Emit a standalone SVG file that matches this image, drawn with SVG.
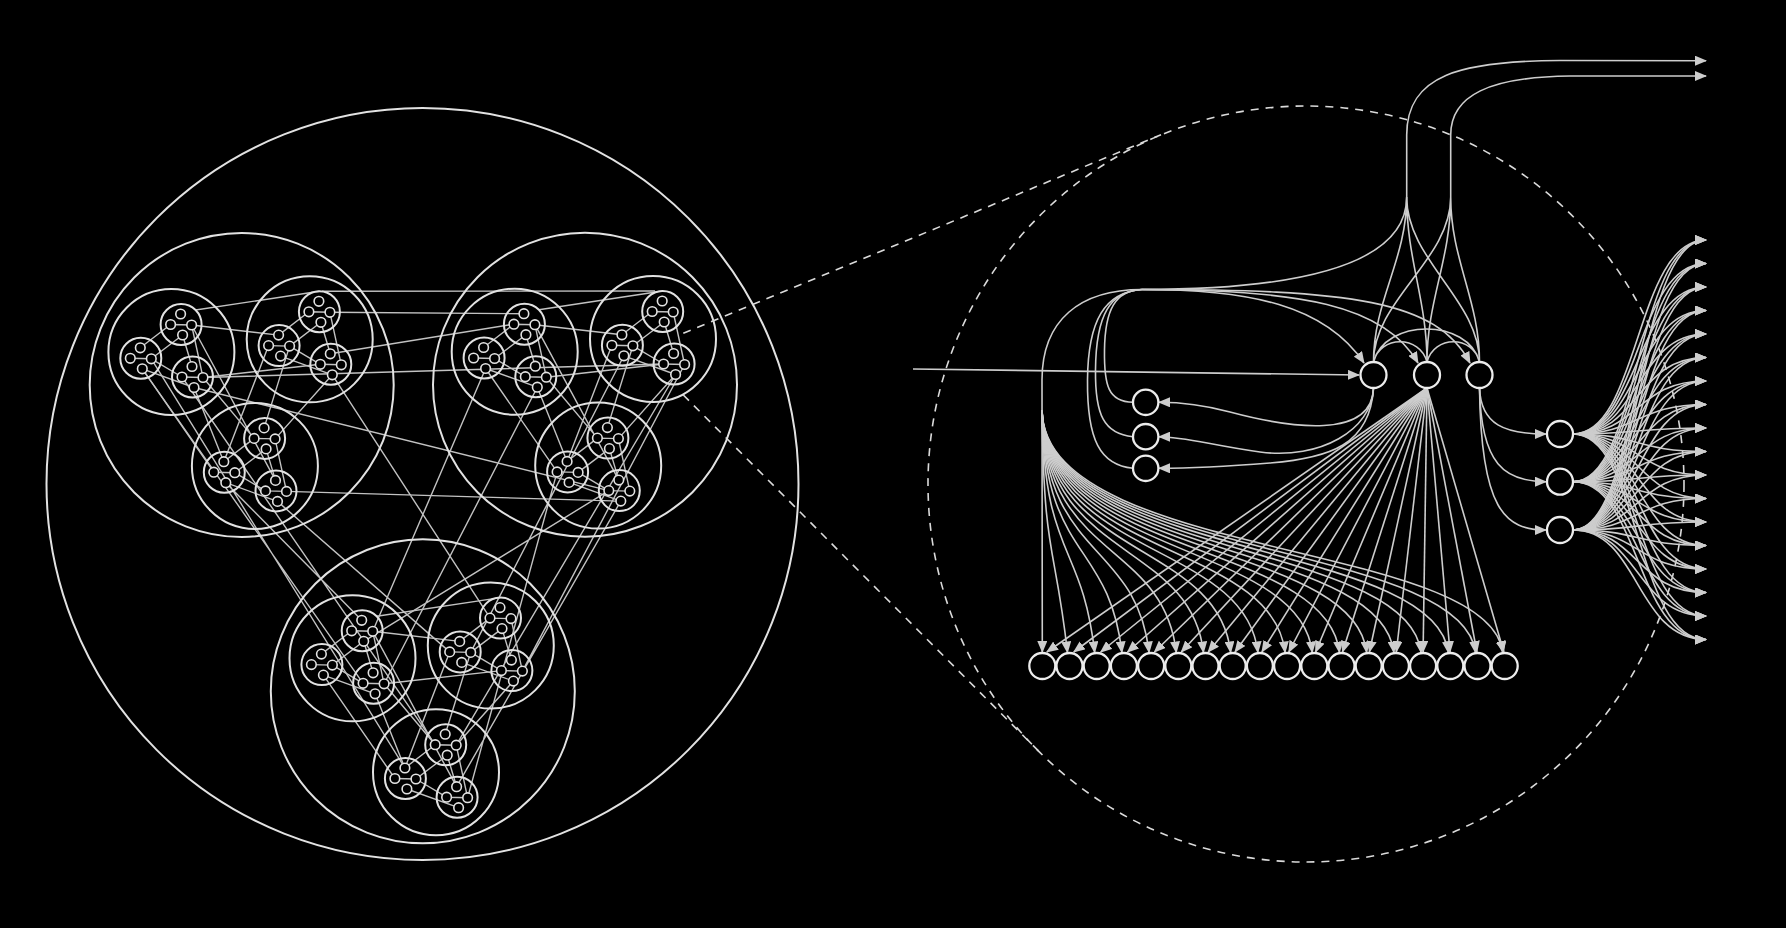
<svg xmlns="http://www.w3.org/2000/svg" width="1786" height="928" viewBox="0 0 1786 928">
<defs>
<style>
.c{fill:none;stroke:#e2e2e2;stroke-width:2}
.ln{fill:none;stroke:#c2c2c2;stroke-width:1.4}
.tn{fill:#000;stroke:#e2e2e2;stroke-width:1.6}
.e{fill:none;stroke:#cdcdcd;stroke-width:1.6}
.ea{fill:none;stroke:#cdcdcd;stroke-width:1.6;marker-end:url(#ah)}
.n{fill:#000;stroke:#ececec;stroke-width:2.3}
.dash{fill:none;stroke:#dadada;stroke-width:1.6;stroke-dasharray:8 7}
</style>
<marker id="ah" viewBox="0 0 12 10" refX="11" refY="5" markerWidth="12" markerHeight="10" markerUnits="userSpaceOnUse" orient="auto"><path d="M0,0 L12,5 L0,10 z" fill="#cdcdcd"/></marker>
<g id="l4c"><circle class="c" r="20.5"/><circle class="tn" cx="-0.5" cy="-10.5" r="4.8"/><circle class="tn" cx="-10.5" cy="0" r="4.8"/><circle class="tn" cx="10.5" cy="0.5" r="4.8"/><circle class="tn" cx="1.5" cy="10.5" r="4.8"/></g>
<g id="l3c"><circle class="c" r="63"/><use href="#l4c" x="9.7" y="-27.5"/><use href="#l4c" x="-30.6" y="6.3"/><use href="#l4c" x="21.1" y="25"/></g>
<g id="l2c"><circle class="c" r="152"/><use href="#l3c" x="-70.3" y="-33"/><use href="#l3c" x="68" y="-45.7"/><use href="#l3c" x="13.2" y="80.9"/></g>
<path id="l3l" class="ln" d="M-31.1 -4.2L-0.8 -27.5M-20.1 6.8L11.2 -17M20.2 -27L31.6 25.5M11.2 -17L20.6 14.5M-20.1 6.8L10.6 25M-29.1 16.8L22.6 35.5M-0.8 -27.5L20.2 -27M-41.1 6.3L-20.1 6.8M10.6 25L31.6 25.5"/>
<g id="l2l"><use href="#l3l" x="-70.3" y="-33"/><use href="#l3l" x="68" y="-45.7"/><use href="#l3l" x="13.2" y="80.9"/><path class="ln" d="M-46.1 -75L77.7 -93.7M-50.1 -60L36.9 -49.9M-38.7 -7.5L78.6 -20.7M-99.4 -16.2L-27.9 87.2M-47.7 2.5L-17.9 76.7M-50.1 -60L33.8 95.4M26.9 -39.4L-17.9 76.7M90.6 -10.2L33.4 53.9M47.9 -38.9L22.4 42.9M-38.7 -7.5L12.4 53.4"/></g>
</defs>
<rect width="1786" height="928" fill="#000"/>

<g id="fractal-connectors">
<use href="#l2l" x="241.7" y="385"/>
<use href="#l2l" x="585" y="384.7"/>
<use href="#l2l" x="422.8" y="691.3"/>
<path class="ln" d="M322 291.3L655 291M329.9 312.3L523.9 313.7M330.3 353.8L513.9 324.2M203 377.5L663.6 364M194 387.5L608.8 490.6M286.5 491.4L620.8 501.1M142.3 368.8L363.1 683.3M151.3 358.8L404.9 768M225.8 482.7L361.7 620.3M277.5 501.4L449.7 651.9M332.3 374.8L490.2 618.1M182 377L435.2 744.7M485.6 368.5L372.7 631.3M537.3 387.2L384.1 683.8M557.1 471.9L467.6 797.7M620.8 501.1L456.6 786.7M608.8 490.6L363.7 641.3M623.9 355.8L470.7 652.4M684.6 364.5L522.4 671.1M675.6 374.5L456.2 745.2"/>
</g>

<g id="fractal">
<circle class="c" cx="422.5" cy="484" r="376"/>
<g id="mod-a"><use href="#l2c" x="241.7" y="385"/></g>
<g id="mod-b"><use href="#l2c" x="585" y="384.7"/></g>
<g id="mod-c"><use href="#l2c" x="422.8" y="691.3"/></g>
</g>

<g id="zoom-lens">
<circle class="dash" cx="1306" cy="484" r="378"/>
<path class="dash" d="M683.3 333.3L1161 134.8M683.3 395L1038.4 750.9"/>
</g>

<g id="connectors">
<path class="ea" d="M913 369L1359 375"/>
<path class="e" d="M1133 402.3C1108 402 1104 385 1104.5 350C1105 310 1115 290.5 1142 289.5"/>
<path class="e" d="M1133 436.7C1104 434 1095 415 1095.5 370C1096 315 1110 291 1142 289.5"/>
<path class="e" d="M1133 468.3C1100 465 1087 440 1087.5 380C1088 320 1105 292 1142 289.5"/>
<path class="ea" d="M1142 289.5C1250 289.5 1325 305 1364 363"/>
<path class="ea" d="M1142 289.5C1300 289.5 1385 305 1418 363"/>
<path class="ea" d="M1142 289.5C1350 289.5 1437 300 1470 363"/>
<path class="e" d="M1142 289.5C1300 289.5 1406.7 265 1406.7 197"/>
<path class="ea" d="M1142 289.5C1080 289.5 1042 320 1042 380L1042.3 652"/>
<path class="ea" d="M1042 410C1044 560 1054.5 540 1067.5 652.5"/>
<path class="ea" d="M1042 410C1044 560 1081.7 540 1094.7 652.5"/>
<path class="ea" d="M1042 410C1044 560 1108.9 540 1121.9 652.5"/>
<path class="ea" d="M1042 410C1044 560 1136.1 540 1149.1 652.5"/>
<path class="ea" d="M1042 410C1044 560 1163.3 540 1176.3 652.5"/>
<path class="ea" d="M1042 410C1044 560 1190.5 540 1203.5 652.5"/>
<path class="ea" d="M1042 410C1044 560 1217.7 540 1230.7 652.5"/>
<path class="ea" d="M1042 410C1044 560 1244.9 540 1257.9 652.5"/>
<path class="ea" d="M1042 410C1044 560 1272.1 540 1285.1 652.5"/>
<path class="ea" d="M1042 410C1044 560 1299.3 540 1312.3 652.5"/>
<path class="ea" d="M1042 410C1044 560 1326.5 540 1339.5 652.5"/>
<path class="ea" d="M1042 410C1044 560 1353.7 540 1366.7 652.5"/>
<path class="ea" d="M1042 410C1044 560 1380.9 540 1393.9 652.5"/>
<path class="ea" d="M1042 410C1044 560 1408.1 540 1421.1 652.5"/>
<path class="ea" d="M1042 410C1044 560 1435.3 540 1448.3 652.5"/>
<path class="ea" d="M1042 410C1044 560 1462.5 540 1475.5 652.5"/>
<path class="ea" d="M1042 410C1044 560 1489.7 540 1502.7 652.5"/>
<path class="ea" d="M1427 388L1046.9 652"/>
<path class="ea" d="M1427 388L1073.8 652"/>
<path class="ea" d="M1427 388L1100.7 652"/>
<path class="ea" d="M1427 388L1127.5 652"/>
<path class="ea" d="M1427 388L1154.4 652"/>
<path class="ea" d="M1427 388L1181.3 652"/>
<path class="ea" d="M1427 388L1208.2 652"/>
<path class="ea" d="M1427 388L1235 652"/>
<path class="ea" d="M1427 388L1261.9 652"/>
<path class="ea" d="M1427 388L1288.8 652"/>
<path class="ea" d="M1427 388L1315.6 652"/>
<path class="ea" d="M1427 388L1342.5 652"/>
<path class="ea" d="M1427 388L1369.4 652"/>
<path class="ea" d="M1427 388L1396.3 652"/>
<path class="ea" d="M1427 388L1423.1 652"/>
<path class="ea" d="M1427 388L1450 652"/>
<path class="ea" d="M1427 388L1476.9 652"/>
<path class="ea" d="M1427 388L1503.8 652"/>
<path class="ea" d="M1373.5 388C1372 440 1290 428 1230 412C1200 404 1180 402.3 1159 402.3"/>
<path class="ea" d="M1373.5 388C1372 430 1320 460 1260 452C1210 445 1185 436.7 1159 436.7"/>
<path class="ea" d="M1373.5 388C1370 445 1330 458 1270 463C1220 467 1190 468.3 1159 468.3"/>
<path class="e" d="M1373.5 362C1380 335 1420 335 1427 362M1427 362C1434 335 1473 335 1479.5 362M1373.5 362C1385 318 1468 318 1479.5 362"/>
<path class="e" d="M1373.5 362C1373.5 300 1406.7 260 1406.7 197M1427 362C1427 300 1406.7 260 1406.7 197M1479.5 362C1479.5 300 1406.7 260 1406.7 197M1373.5 362C1373.5 300 1450.7 260 1450.7 197M1427 362C1427 300 1450.7 260 1450.7 197M1479.5 362C1479.5 300 1450.7 260 1450.7 197"/>
<path class="ea" d="M1406.7 197L1406.7 135C1406.7 75 1460 61 1560 60.5L1706 60.7"/>
<path class="ea" d="M1450.7 197L1450.7 135C1450.7 95 1490 77 1570 76L1706 76"/>
<path class="ea" d="M1479.5 388C1481 425 1505 434 1546 434"/>
<path class="ea" d="M1479.5 388C1481 465 1505 481.7 1546 481.7"/>
<path class="ea" d="M1479.5 388C1481 510 1505 530 1546 530"/>
<path class="ea" d="M1573 434C1640 434 1635 240 1706 240"/>
<path class="ea" d="M1573 434C1640 434 1635 263.5 1706 263.5"/>
<path class="ea" d="M1573 434C1640 434 1635 287 1706 287"/>
<path class="ea" d="M1573 434C1640 434 1635 310.5 1706 310.5"/>
<path class="ea" d="M1573 434C1640 434 1635 334 1706 334"/>
<path class="ea" d="M1573 434C1640 434 1635 357.5 1706 357.5"/>
<path class="ea" d="M1573 434C1640 434 1635 381 1706 381"/>
<path class="ea" d="M1573 434C1640 434 1635 404.5 1706 404.5"/>
<path class="ea" d="M1573 434C1640 434 1635 428 1706 428"/>
<path class="ea" d="M1573 434C1640 434 1635 451.5 1706 451.5"/>
<path class="ea" d="M1573 434C1640 434 1635 475 1706 475"/>
<path class="ea" d="M1573 434C1640 434 1635 498.5 1706 498.5"/>
<path class="ea" d="M1573 434C1640 434 1635 522 1706 522"/>
<path class="ea" d="M1573 434C1640 434 1635 545.5 1706 545.5"/>
<path class="ea" d="M1573 434C1640 434 1635 569 1706 569"/>
<path class="ea" d="M1573 434C1640 434 1635 592.5 1706 592.5"/>
<path class="ea" d="M1573 434C1640 434 1635 616 1706 616"/>
<path class="ea" d="M1573 434C1640 434 1635 639.5 1706 639.5"/>
<path class="ea" d="M1573 481.7C1640 481.7 1635 240 1706 240"/>
<path class="ea" d="M1573 481.7C1640 481.7 1635 263.5 1706 263.5"/>
<path class="ea" d="M1573 481.7C1640 481.7 1635 287 1706 287"/>
<path class="ea" d="M1573 481.7C1640 481.7 1635 310.5 1706 310.5"/>
<path class="ea" d="M1573 481.7C1640 481.7 1635 334 1706 334"/>
<path class="ea" d="M1573 481.7C1640 481.7 1635 357.5 1706 357.5"/>
<path class="ea" d="M1573 481.7C1640 481.7 1635 381 1706 381"/>
<path class="ea" d="M1573 481.7C1640 481.7 1635 404.5 1706 404.5"/>
<path class="ea" d="M1573 481.7C1640 481.7 1635 428 1706 428"/>
<path class="ea" d="M1573 481.7C1640 481.7 1635 451.5 1706 451.5"/>
<path class="ea" d="M1573 481.7C1640 481.7 1635 475 1706 475"/>
<path class="ea" d="M1573 481.7C1640 481.7 1635 498.5 1706 498.5"/>
<path class="ea" d="M1573 481.7C1640 481.7 1635 522 1706 522"/>
<path class="ea" d="M1573 481.7C1640 481.7 1635 545.5 1706 545.5"/>
<path class="ea" d="M1573 481.7C1640 481.7 1635 569 1706 569"/>
<path class="ea" d="M1573 481.7C1640 481.7 1635 592.5 1706 592.5"/>
<path class="ea" d="M1573 481.7C1640 481.7 1635 616 1706 616"/>
<path class="ea" d="M1573 481.7C1640 481.7 1635 639.5 1706 639.5"/>
<path class="ea" d="M1573 530C1640 530 1635 240 1706 240"/>
<path class="ea" d="M1573 530C1640 530 1635 263.5 1706 263.5"/>
<path class="ea" d="M1573 530C1640 530 1635 287 1706 287"/>
<path class="ea" d="M1573 530C1640 530 1635 310.5 1706 310.5"/>
<path class="ea" d="M1573 530C1640 530 1635 334 1706 334"/>
<path class="ea" d="M1573 530C1640 530 1635 357.5 1706 357.5"/>
<path class="ea" d="M1573 530C1640 530 1635 381 1706 381"/>
<path class="ea" d="M1573 530C1640 530 1635 404.5 1706 404.5"/>
<path class="ea" d="M1573 530C1640 530 1635 428 1706 428"/>
<path class="ea" d="M1573 530C1640 530 1635 451.5 1706 451.5"/>
<path class="ea" d="M1573 530C1640 530 1635 475 1706 475"/>
<path class="ea" d="M1573 530C1640 530 1635 498.5 1706 498.5"/>
<path class="ea" d="M1573 530C1640 530 1635 522 1706 522"/>
<path class="ea" d="M1573 530C1640 530 1635 545.5 1706 545.5"/>
<path class="ea" d="M1573 530C1640 530 1635 569 1706 569"/>
<path class="ea" d="M1573 530C1640 530 1635 592.5 1706 592.5"/>
<path class="ea" d="M1573 530C1640 530 1635 616 1706 616"/>
<path class="ea" d="M1573 530C1640 530 1635 639.5 1706 639.5"/>
</g>

<g id="nodes">
<g id="n-top1"><circle class="n" cx="1373.5" cy="375" r="13"/></g>
<g id="n-top2"><circle class="n" cx="1427" cy="375" r="13"/></g>
<g id="n-top3"><circle class="n" cx="1479.5" cy="375" r="13"/></g>
<g id="n-left1"><circle class="n" cx="1145.7" cy="402.3" r="12.7"/></g>
<g id="n-left2"><circle class="n" cx="1145.7" cy="436.7" r="12.7"/></g>
<g id="n-left3"><circle class="n" cx="1145.7" cy="468.3" r="12.7"/></g>
<g id="n-right1"><circle class="n" cx="1560" cy="434" r="13"/></g>
<g id="n-right2"><circle class="n" cx="1560" cy="481.7" r="13"/></g>
<g id="n-right3"><circle class="n" cx="1560" cy="530" r="13"/></g>
<g id="n-b0"><circle class="n" cx="1042.3" cy="666" r="13"/></g>
<g id="n-b1"><circle class="n" cx="1069.5" cy="666" r="13"/></g>
<g id="n-b2"><circle class="n" cx="1096.7" cy="666" r="13"/></g>
<g id="n-b3"><circle class="n" cx="1123.9" cy="666" r="13"/></g>
<g id="n-b4"><circle class="n" cx="1151.1" cy="666" r="13"/></g>
<g id="n-b5"><circle class="n" cx="1178.3" cy="666" r="13"/></g>
<g id="n-b6"><circle class="n" cx="1205.5" cy="666" r="13"/></g>
<g id="n-b7"><circle class="n" cx="1232.7" cy="666" r="13"/></g>
<g id="n-b8"><circle class="n" cx="1259.9" cy="666" r="13"/></g>
<g id="n-b9"><circle class="n" cx="1287.1" cy="666" r="13"/></g>
<g id="n-b10"><circle class="n" cx="1314.3" cy="666" r="13"/></g>
<g id="n-b11"><circle class="n" cx="1341.5" cy="666" r="13"/></g>
<g id="n-b12"><circle class="n" cx="1368.7" cy="666" r="13"/></g>
<g id="n-b13"><circle class="n" cx="1395.9" cy="666" r="13"/></g>
<g id="n-b14"><circle class="n" cx="1423.1" cy="666" r="13"/></g>
<g id="n-b15"><circle class="n" cx="1450.3" cy="666" r="13"/></g>
<g id="n-b16"><circle class="n" cx="1477.5" cy="666" r="13"/></g>
<g id="n-b17"><circle class="n" cx="1504.7" cy="666" r="13"/></g>
</g>
</svg>
